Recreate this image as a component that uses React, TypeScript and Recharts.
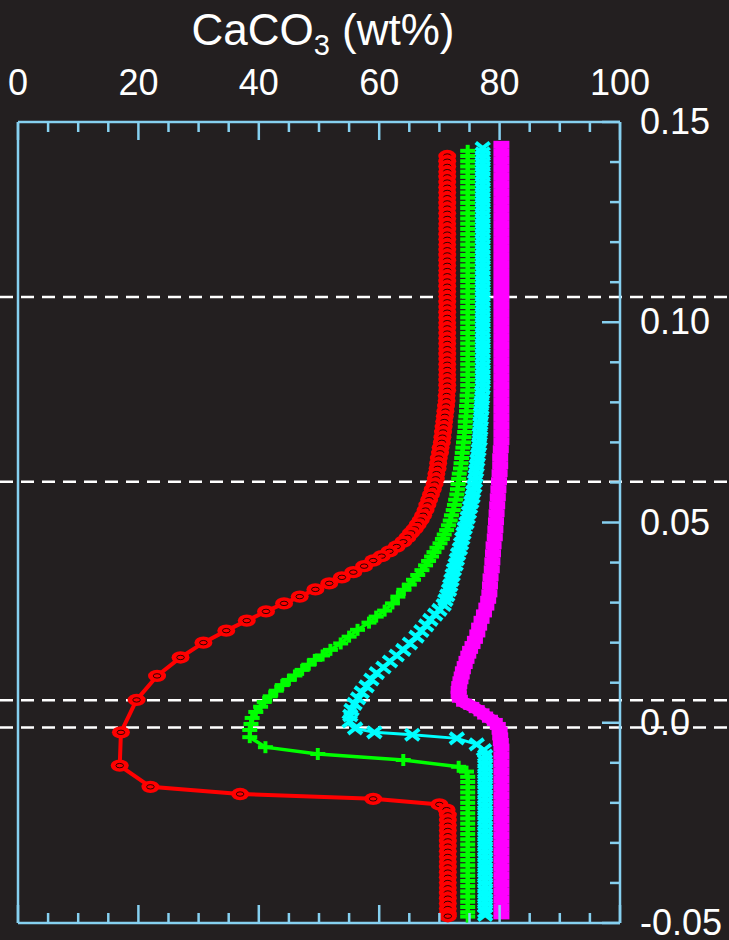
import React from "react";
import {
  ScatterChart,
  Scatter,
  XAxis,
  YAxis,
  ReferenceLine,
} from "recharts";

// ─── Data ──────────────────────────────────────────────────────────────────

const xTicks = [0, 5, 10, 15, 20, 25, 30, 35, 40, 45, 50, 55, 60, 65, 70, 75, 80, 85, 90, 95, 100];
const xLabelValues = [0, 20, 40, 60, 80, 100];
const yTicks = [-0.05, -0.04, -0.03, -0.02, -0.01, 0, 0.01, 0.02, 0.03, 0.04, 0.05, 0.06, 0.07, 0.08, 0.09, 0.1, 0.11, 0.12, 0.13, 0.14, 0.15];
const yLabelValues = [0.15, 0.1, 0.05, 0, -0.05];
const yLabelTexts = ["0.15", "0.10", "0.05", "0.0", "-0.05"];
const dashLevels = [0.1063, 0.0602, 0.0056, -0.0012];

// Straight upper / lower columns: one CaCO3 value, many depths
const redTopX = 71.3;
const redTopDepths = [
  0.1415, 0.1402, 0.1389, 0.1376, 0.1363, 0.135, 0.1337, 0.1324, 0.1311, 0.1298, 0.1285, 0.1272,
  0.1259, 0.1246, 0.1233, 0.122, 0.1207, 0.1194, 0.1181, 0.1168, 0.1155, 0.1142, 0.1129, 0.1116,
  0.1103, 0.109, 0.1077, 0.1064, 0.1051, 0.1038, 0.1025, 0.1012, 0.0999, 0.0986, 0.0973, 0.096,
  0.0947, 0.0934, 0.0921, 0.0908, 0.0895, 0.0882, 0.0869, 0.0856, 0.0843, 0.083,
];
const redBottomX = 71.4;
const redBottomDepths = [
  -0.023, -0.0243, -0.0256, -0.0269, -0.0282, -0.0295, -0.0308, -0.0321, -0.0334, -0.0347, -0.036,
  -0.0373, -0.0386, -0.0399, -0.0412, -0.0425, -0.0438, -0.0451, -0.0464, -0.0477, -0.0483,
];

const greenTopX = 74.7;
const greenTopDepths = [
  0.1428, 0.1415, 0.1402, 0.1389, 0.1376, 0.1363, 0.135, 0.1337, 0.1324, 0.1311, 0.1298, 0.1285,
  0.1272, 0.1259, 0.1246, 0.1233, 0.122, 0.1207, 0.1194, 0.1181, 0.1168, 0.1155, 0.1142, 0.1129,
  0.1116, 0.1103, 0.109, 0.1077, 0.1064, 0.1051, 0.1038, 0.1025, 0.1012, 0.0999, 0.0986, 0.0973,
  0.096, 0.0947, 0.0934, 0.0921, 0.0908, 0.0895, 0.0882, 0.0869, 0.0856, 0.0843, 0.083,
];
const greenBottomX = 74.7;
const greenBottomDepths = [
  -0.0135, -0.0148, -0.0161, -0.0174, -0.0187, -0.02, -0.0213, -0.0226, -0.0239, -0.0252, -0.0265,
  -0.0278, -0.0291, -0.0304, -0.0317, -0.033, -0.0343, -0.0356, -0.0369, -0.0382, -0.0395, -0.0408,
  -0.0421, -0.0434, -0.0447, -0.046, -0.0473, -0.0484,
];

const cyanTopX = 77.2;
const cyanTopDepths = [
  0.1435, 0.1422, 0.1409, 0.1396, 0.1383, 0.137, 0.1357, 0.1344, 0.1331, 0.1318, 0.1305, 0.1292,
  0.1279, 0.1266, 0.1253, 0.124, 0.1227, 0.1214, 0.1201, 0.1188, 0.1175, 0.1162, 0.1149, 0.1136,
  0.1123, 0.111, 0.1097, 0.1084, 0.1071, 0.1058, 0.1045, 0.1032, 0.1019, 0.1006, 0.0993, 0.098,
  0.0967, 0.0954, 0.0941, 0.0928, 0.0915, 0.0902, 0.0889, 0.0876, 0.0863, 0.085, 0.0837,
];
const cyanBottomX = 77.6;
const cyanBottomDepths = [
  -0.0082, -0.0095, -0.0108, -0.0121, -0.0134, -0.0147, -0.016, -0.0173, -0.0186, -0.0199, -0.0212,
  -0.0225, -0.0238, -0.0251, -0.0264, -0.0277, -0.029, -0.0303, -0.0316, -0.0329, -0.0342, -0.0355,
  -0.0368, -0.0381, -0.0394, -0.0407, -0.042, -0.0433, -0.0446, -0.0459, -0.0472, -0.048,
];

const magentaTopX = 80.3;
const magentaTopDepths = [
  0.1443, 0.1423, 0.1403, 0.1383, 0.1363, 0.1343, 0.1323, 0.1303, 0.1283, 0.1263, 0.1243, 0.1223,
  0.1203, 0.1183, 0.1163, 0.1143, 0.1123, 0.1103, 0.1083, 0.1063, 0.1043, 0.1023, 0.1003, 0.0983,
  0.0963, 0.0943, 0.0923, 0.0903, 0.0883, 0.0863, 0.0843, 0.0823, 0.0803, 0.0783, 0.0763, 0.0743,
  0.0723, 0.0703,
];
const magentaBottomX = 80.3;
const magentaBottomDepths = [
  -0.0082, -0.0102, -0.0122, -0.0142, -0.0162, -0.0182, -0.0202, -0.0222, -0.0242, -0.0262, -0.0282,
  -0.0302, -0.0322, -0.0342, -0.0362, -0.0382, -0.0402, -0.0422, -0.0442, -0.0462, -0.0481,
];

// Curved middle parts: [CaCO3 wt%, depth]
const redBend = [
  [71.2, 0.0817], [71.2, 0.0804], [71.1, 0.0791], [71.0, 0.0778], [70.9, 0.0765], [70.8, 0.0752],
  [70.7, 0.0739], [70.6, 0.0726], [70.5, 0.0713], [70.4, 0.07], [70.2, 0.0687], [70.1, 0.0674],
  [69.9, 0.0661], [69.8, 0.0648], [69.7, 0.0635], [69.5, 0.0622], [69.4, 0.0609], [69.2, 0.0596],
  [68.9, 0.0583], [68.6, 0.057], [68.3, 0.0557], [68.0, 0.0544], [67.7, 0.0531], [67.3, 0.0518],
  [66.9, 0.0506], [66.4, 0.0495], [65.9, 0.0484], [65.3, 0.0474], [64.7, 0.0463], [64.0, 0.0452],
  [62.9, 0.044], [61.7, 0.0428], [60.4, 0.0416], [59.0, 0.0405], [57.5, 0.0391], [55.7, 0.0376],
  [53.8, 0.0363], [51.7, 0.0348], [49.4, 0.0333], [46.8, 0.0315], [44.2, 0.0298], [41.2, 0.0278],
  [38.0, 0.0255], [34.6, 0.023], [30.8, 0.02], [27.0, 0.0163], [23.1, 0.0117], [19.7, 0.0057],
  [17.1, -0.0024], [16.9, -0.0107], [22.0, -0.016], [36.9, -0.0178], [59.0, -0.019], [70.0, -0.0204],
  [71.2, -0.0217],
];

const greenBend = [
  [74.6, 0.0817], [74.6, 0.0804], [74.5, 0.0791], [74.5, 0.0778], [74.4, 0.0765], [74.3, 0.0752],
  [74.3, 0.0739], [74.2, 0.0726], [74.1, 0.0713], [74.0, 0.07], [73.9, 0.0687], [73.8, 0.0674],
  [73.7, 0.0661], [73.6, 0.0648], [73.5, 0.0635], [73.3, 0.0622], [73.2, 0.0609], [73.1, 0.0596],
  [73.0, 0.0583], [72.9, 0.057], [72.7, 0.0557], [72.5, 0.0544], [72.3, 0.0531], [72.0, 0.0518],
  [71.8, 0.0505], [71.5, 0.0493], [71.2, 0.0481], [70.8, 0.047], [70.5, 0.0459], [70.1, 0.0448],
  [69.6, 0.0437], [69.1, 0.0426], [68.7, 0.0415], [68.2, 0.0404], [67.7, 0.0393], [67.1, 0.0381],
  [66.4, 0.0369], [65.7, 0.0357], [65.0, 0.0345], [64.1, 0.0332], [63.1, 0.0315], [62.2, 0.0298],
  [60.9, 0.028], [59.5, 0.0265], [58.3, 0.025], [56.4, 0.0232], [55.0, 0.0215], [53.6, 0.0198],
  [51.9, 0.0182], [50.6, 0.0168], [49.3, 0.0157], [48.3, 0.0145], [47.2, 0.0132], [46.0, 0.0118],
  [45.0, 0.0107], [43.9, 0.0094], [42.9, 0.008], [41.9, 0.0066], [40.9, 0.0052], [40.3, 0.004],
  [39.5, 0.0027], [38.9, 0.0012], [38.7, -0.0003], [38.5, -0.0018], [38.5, -0.0036], [41.1, -0.0061],
  [49.8, -0.0078], [64.0, -0.0093], [73.2, -0.011], [74.5, -0.0122],
];

const cyanBend = [
  [77.1, 0.0824], [77.1, 0.0811], [77.0, 0.0798], [77.0, 0.0785], [76.9, 0.0772], [76.9, 0.0759],
  [76.8, 0.0746], [76.8, 0.0733], [76.7, 0.072], [76.7, 0.0707], [76.6, 0.0694], [76.5, 0.0681],
  [76.4, 0.0668], [76.3, 0.0655], [76.2, 0.0642], [76.1, 0.0629], [76.0, 0.0616], [75.9, 0.0603],
  [75.8, 0.059], [75.6, 0.0577], [75.5, 0.0564], [75.3, 0.0551], [75.1, 0.0538], [74.9, 0.0525],
  [74.7, 0.0512], [74.5, 0.0499], [74.2, 0.0486], [74.0, 0.0473], [73.8, 0.046], [73.6, 0.0447],
  [73.4, 0.0434], [73.1, 0.0421], [72.9, 0.0408], [72.7, 0.0395], [72.4, 0.0382], [72.2, 0.0369],
  [72.0, 0.0356], [71.8, 0.0343], [71.6, 0.0331], [71.3, 0.0318], [71.0, 0.0306], [70.7, 0.0294],
  [70.0, 0.0282], [69.3, 0.027], [68.5, 0.0257], [67.8, 0.0243], [67.0, 0.0229], [66.2, 0.0215],
  [65.1, 0.0198], [64.0, 0.0182], [62.9, 0.0168], [61.8, 0.0153], [60.7, 0.0138], [59.6, 0.0124],
  [58.7, 0.0108], [57.9, 0.0091], [57.1, 0.0076], [56.5, 0.0061], [55.9, 0.0047], [55.4, 0.0032],
  [55.2, 0.0018], [55.1, 0.0003], [56.0, -0.0014], [59.2, -0.0024], [65.5, -0.003], [72.9, -0.0039],
  [76.2, -0.0054], [77.4, -0.0068],
];

const magentaBend = [
  [80.2, 0.0683], [80.1, 0.0663], [80.1, 0.0643], [80.0, 0.0623], [79.9, 0.0603], [79.8, 0.0583],
  [79.7, 0.0563], [79.6, 0.0543], [79.5, 0.0523], [79.4, 0.0503], [79.3, 0.0483], [79.2, 0.0463],
  [79.0, 0.0443], [78.9, 0.0423], [78.8, 0.0403], [78.7, 0.0383], [78.5, 0.0363], [78.4, 0.0343],
  [78.3, 0.0323], [78.1, 0.0307], [77.8, 0.029], [77.4, 0.0273], [77.0, 0.0257], [76.6, 0.024],
  [76.3, 0.0223], [75.9, 0.0207], [75.5, 0.0194], [75.1, 0.0182], [74.8, 0.017], [74.5, 0.0157],
  [74.2, 0.0144], [73.9, 0.0131], [73.7, 0.0118], [73.5, 0.0106], [73.3, 0.0094], [73.2, 0.0082],
  [73.2, 0.007], [73.4, 0.006], [74.1, 0.005], [75.3, 0.0042], [76.2, 0.0034], [77.0, 0.0026],
  [77.6, 0.0018], [78.4, 0.001], [79.2, 0.0002], [79.7, -0.0008], [80.0, -0.002], [80.1, -0.0034],
  [80.2, -0.0048], [80.3, -0.0062],
];

// ─── Styling ───────────────────────────────────────────────────────────────

const W = 729;
const H = 940;
const BG = "#231f20";
const FRAME = "#86d0f0";
const RED = "#ff0000";
const GREEN = "#00ff00";
const CYAN = "#00ffff";
const MAGENTA = "#ff00ff";
const FONT = "'Liberation Sans', Arial, Helvetica, sans-serif";

const column = (x: number, depths: number[]) => depths.map((y) => ({ x, y }));
const pairs = (pts: number[][]) => pts.map(([x, y]) => ({ x, y }));

const redData = [...column(redTopX, redTopDepths), ...pairs(redBend), ...column(redBottomX, redBottomDepths)];
const greenData = [...column(greenTopX, greenTopDepths), ...pairs(greenBend), ...column(greenBottomX, greenBottomDepths)];
const cyanData = [...column(cyanTopX, cyanTopDepths), ...pairs(cyanBend), ...column(cyanBottomX, cyanBottomDepths)];
const magentaData = [...column(magentaTopX, magentaTopDepths), ...pairs(magentaBend), ...column(magentaBottomX, magentaBottomDepths)];

const isMajorX = (v: number) => xLabelValues.includes(v);
const yLabelIndex = (v: number) =>
  yLabelValues.findIndex((lv) => Math.abs(lv - v) < 1e-9);

// ─── Markers ───────────────────────────────────────────────────────────────

function RedMarker({ cx, cy }: any) {
  return (
    <g>
      <ellipse cx={cx} cy={cy} rx={9} ry={6.2} fill={RED} />
      <ellipse cx={cx} cy={cy} rx={3.8} ry={2.2} fill="none" stroke="#000" strokeWidth={0.8} />
    </g>
  );
}

function GreenMarker({ cx, cy }: any) {
  return (
    <g stroke={GREEN}>
      <line x1={cx - 7.5} x2={cx + 7.5} y1={cy} y2={cy} strokeWidth={4} />
      <line x1={cx} x2={cx} y1={cy - 6} y2={cy + 6} strokeWidth={4} />
    </g>
  );
}

function CyanMarker({ cx, cy }: any) {
  return (
    <g stroke={CYAN} strokeWidth={4}>
      <line x1={cx - 7} x2={cx + 7} y1={cy - 5.5} y2={cy + 5.5} />
      <line x1={cx - 7} x2={cx + 7} y1={cy + 5.5} y2={cy - 5.5} />
    </g>
  );
}

function MagentaMarker({ cx, cy }: any) {
  return <rect x={cx - 8} y={cy - 4} width={16} height={8} fill={MAGENTA} />;
}

// ─── Axis ticks (drawn inward) ─────────────────────────────────────────────

function TopTick({ x, y, payload }: any) {
  const v = payload.value;
  const major = isMajorX(v);
  return (
    <g>
      <line x1={x} x2={x} y1={y} y2={y + (major ? 18 : 10)} stroke={FRAME} strokeWidth={2.5} />
      {major && (
        <text x={x} y={y - 27} textAnchor="middle" fill="#fff" fontSize={36} fontFamily={FONT}>
          {v}
        </text>
      )}
    </g>
  );
}

function BottomTick({ x, y, payload }: any) {
  const major = isMajorX(payload.value);
  return <line x1={x} x2={x} y1={y} y2={y - (major ? 18 : 10)} stroke={FRAME} strokeWidth={2.5} />;
}

function RightTick({ x, y, payload }: any) {
  const idx = yLabelIndex(payload.value);
  const major = idx >= 0;
  return (
    <g>
      <line x1={x} x2={x - (major ? 18 : 10)} y1={y} y2={y} stroke={FRAME} strokeWidth={2.5} />
      {major && (
        <text x={x + 20} y={y + 12} textAnchor="start" fill="#fff" fontSize={36} fontFamily={FONT}>
          {yLabelTexts[idx]}
        </text>
      )}
    </g>
  );
}

const DashShape = (p: any) => (
  <line x1={0} x2={W} y1={p.y1} y2={p.y2} stroke="#fff" strokeWidth={2.5} strokeDasharray="13 8" />
);

export default function App() {
  const axisLine = { stroke: FRAME, strokeWidth: 2.5 };
  return (
    <div style={{ position: "absolute", left: 0, top: 0, width: W, height: H, background: BG, overflow: "hidden" }}>
      <ScatterChart width={W} height={H} margin={{ top: 0, right: 0, bottom: 0, left: 0 }}>
        <XAxis
          xAxisId="top"
          orientation="top"
          type="number"
          dataKey="x"
          domain={[0, 100]}
          ticks={xTicks}
          interval={0}
          height={122}
          axisLine={axisLine}
          tickLine={false}
          tickSize={0}
          tickMargin={0}
          tick={TopTick}
          allowDataOverflow
        />
        <XAxis
          xAxisId="bottom"
          orientation="bottom"
          type="number"
          dataKey="x"
          domain={[0, 100]}
          ticks={xTicks}
          interval={0}
          height={17}
          axisLine={axisLine}
          tickLine={false}
          tickSize={0}
          tickMargin={0}
          tick={BottomTick}
          allowDataOverflow
        />
        <YAxis
          yAxisId="right"
          orientation="right"
          type="number"
          dataKey="y"
          domain={[-0.05, 0.15]}
          ticks={yTicks}
          interval={0}
          width={109}
          axisLine={axisLine}
          tickLine={false}
          tickSize={0}
          tickMargin={0}
          tick={RightTick}
          allowDataOverflow
        />
        <YAxis
          yAxisId="left"
          orientation="left"
          type="number"
          domain={[-0.05, 0.15]}
          width={18}
          axisLine={axisLine}
          tickLine={false}
          tick={false}
          allowDataOverflow
        />

        <Scatter
          xAxisId="top"
          yAxisId="right"
          data={redData}
          line={{ stroke: RED, strokeWidth: 4 }}
          lineType="joint"
          shape={RedMarker}
          isAnimationActive={false}
        />
        <Scatter
          xAxisId="top"
          yAxisId="right"
          data={greenData}
          line={{ stroke: GREEN, strokeWidth: 3.5 }}
          lineType="joint"
          shape={GreenMarker}
          isAnimationActive={false}
        />
        <Scatter
          xAxisId="top"
          yAxisId="right"
          data={cyanData}
          line={{ stroke: CYAN, strokeWidth: 3 }}
          lineType="joint"
          shape={CyanMarker}
          isAnimationActive={false}
        />
        <Scatter
          xAxisId="top"
          yAxisId="right"
          data={magentaData}
          line={{ stroke: MAGENTA, strokeWidth: 12 }}
          lineType="joint"
          shape={MagentaMarker}
          isAnimationActive={false}
        />

        {dashLevels.map((lv) => (
          <ReferenceLine key={lv} xAxisId="top" yAxisId="right" y={lv} shape={DashShape} ifOverflow="visible" />
        ))}
      </ScatterChart>

      <svg width={W} height={60} style={{ position: "absolute", left: 0, top: 0 }}>
        <text x={323} y={45} textAnchor="middle" fill="#fff" fontSize={44} fontFamily={FONT}>
          CaCO
          <tspan fontSize={29} dy={10}>3</tspan>
          <tspan dy={-10}> (wt%)</tspan>
        </text>
      </svg>
    </div>
  );
}
